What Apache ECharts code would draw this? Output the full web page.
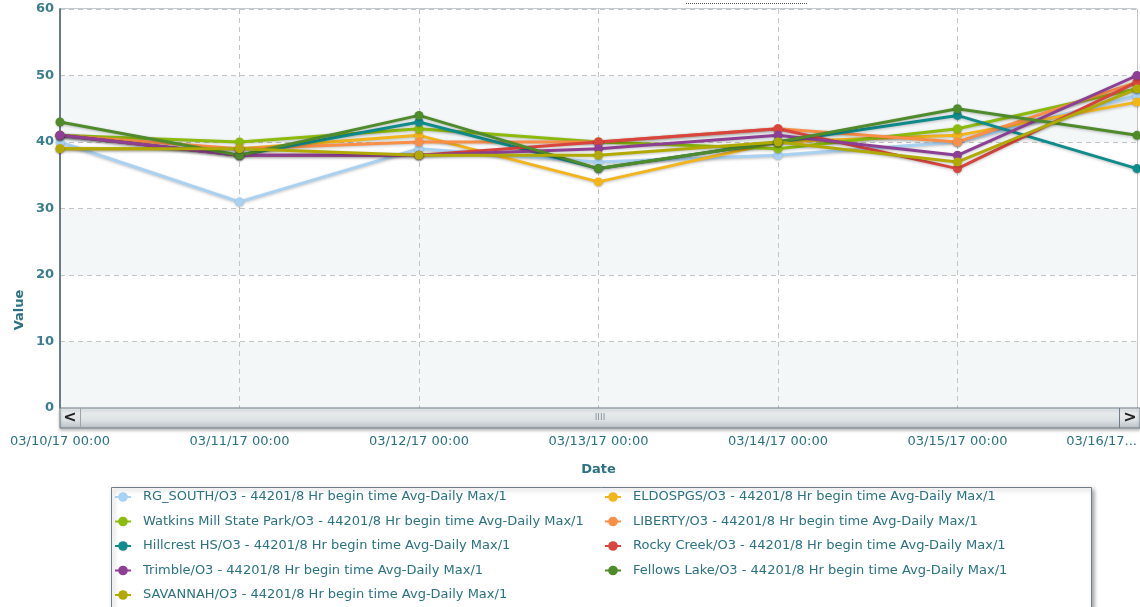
<!DOCTYPE html>
<html>
<head>
<meta charset="utf-8">
<script src="https://cdn.jsdelivr.net/npm/echarts@6/dist/echarts.min.js"></script>
<style>
html,body{margin:0;padding:0;background:#fff;}
#c{width:1140px;height:607px;}
</style>
</head>
<body>
<div id="c"></div>
<script>
var dates = ['03/10/17 00:00','03/11/17 00:00','03/12/17 00:00','03/13/17 00:00','03/14/17 00:00','03/15/17 00:00','03/16/17 00:00'];
var yTicks = [0, 10, 20, 30, 40, 50, 60];

var rgSouth    = [40, 31, 39, 37, 38, 40, 47];
var eldospgs   = [39, 39, 41, 34, 40, 41, 46];
var watkins    = [41, 40, 42, 40, 39, 42, 48];
var liberty    = [41, 39, 40, 40, 42, 40, 49];
var hillcrest  = [41, 38, 43, 36, 40, 44, 36];
var rockyCreek = [41, 38, 38, 40, 42, 36, 49];
var trimble    = [41, 38, 38, 39, 41, 38, 50];
var fellows    = [43, 38, 44, 36, 40, 45, 41];
var savannah   = [39, 39, 38, 38, 40, 37, 48];

var suffix = '/O3 - 44201/8 Hr begin time Avg-Daily Max/1';
var seriesDefs = [
  {name: 'RG_SOUTH' + suffix, data: rgSouth, color: '#a9d1f2'},
  {name: 'ELDOSPGS' + suffix, data: eldospgs, color: '#f3b51c'},
  {name: 'Watkins Mill State Park' + suffix, data: watkins, color: '#8dbb0c'},
  {name: 'LIBERTY' + suffix, data: liberty, color: '#f98e47'},
  {name: 'Hillcrest HS' + suffix, data: hillcrest, color: '#108c8c'},
  {name: 'Rocky Creek' + suffix, data: rockyCreek, color: '#d9443f'},
  {name: 'Trimble' + suffix, data: trimble, color: '#8d3f93'},
  {name: 'Fellows Lake' + suffix, data: fellows, color: '#4f8a2b'},
  {name: 'SAVANNAH' + suffix, data: savannah, color: '#b1aa05'}
];

var teal = '#2b7282';
var series = seriesDefs.map(function (s) {
  return {
    name: s.name, type: 'line', data: s.data, color: s.color,
    symbol: 'circle', symbolSize: 9, showSymbol: true,
    lineStyle: {width: 3, color: s.color, shadowColor: 'rgba(0,0,0,0.25)', shadowBlur: 3, shadowOffsetY: 1},
    itemStyle: {color: s.color, shadowColor: 'rgba(0,0,0,0.25)', shadowBlur: 2, shadowOffsetY: 1},
    animation: false
  };
});

var legendCommon = {
  orient: 'vertical', top: 490, padding: 0, height: 116, itemWidth: 16, itemHeight: 12, itemGap: 10.5,
  textStyle: {fontFamily: 'DejaVu Sans', fontSize: 13, lineHeight: 14, color: teal, padding: [0, 0, 0, 7]},
  selectedMode: false
};

var chart = echarts.init(document.getElementById('c'), null, {renderer: 'canvas'});
chart.setOption({
  backgroundColor: '#ffffff',
  animation: false,
  grid: {left: 60, right: 0, top: 9, bottom: 199, show: true, borderColor: '#8493a0', borderWidth: 1, backgroundColor: 'transparent'},
  xAxis: {
    type: 'category', data: dates, boundaryGap: false,
    axisLine: {show: false}, axisTick: {show: false},
    axisLabel: {
      margin: 27, color: teal, fontFamily: 'DejaVu Sans', fontSize: 13,
      interval: 0, alignMaxLabel: 'right',
      formatter: function (v, i) { return i === dates.length - 1 ? '03/16/17...' : v; }
    },
    splitLine: {show: true, lineStyle: {color: '#c4c4c4', type: [5, 4], width: 1}},
    name: 'Date', nameLocation: 'middle', nameGap: 55,
    nameTextStyle: {color: teal, fontFamily: 'DejaVu Sans', fontSize: 13, fontWeight: 'bold'}
  },
  yAxis: {
    type: 'value', min: yTicks[0], max: yTicks[yTicks.length - 1], interval: 10,
    axisLine: {show: true, lineStyle: {color: '#6a7c88', width: 2}},
    axisTick: {show: false},
    axisLabel: {color: '#3b7d8c', fontFamily: 'DejaVu Sans', fontSize: 13, fontWeight: 'bold', margin: 6},
    splitLine: {show: true, lineStyle: {color: '#c4c4c4', type: [5, 4], width: 1}},
    splitArea: {show: true, areaStyle: {color: ['#f4f7f8', '#ffffff']}}
  },
  legend: [
    Object.assign({}, legendCommon, {left: 114, data: [seriesDefs[0].name, seriesDefs[2].name, seriesDefs[4].name, seriesDefs[6].name, seriesDefs[8].name]}),
    Object.assign({}, legendCommon, {left: 604, data: [seriesDefs[1].name, seriesDefs[3].name, seriesDefs[5].name, seriesDefs[7].name]})
  ],
  graphic: [
    {type: 'rect', shape: {x: 111.5, y: 487.5, width: 980, height: 140}, style: {fill: '#fff', stroke: '#6f7d88', lineWidth: 1, shadowColor: 'rgba(0,0,0,0.35)', shadowBlur: 4, shadowOffsetX: 2, shadowOffsetY: 2}, z: -10},
    {type: 'rect', shape: {x: 60, y: 408, width: 1080, height: 20},
      style: {fill: new echarts.graphic.LinearGradient(0, 0, 0, 1, [{offset: 0, color: '#eef1f3'}, {offset: 0.6, color: '#dde2e5'}, {offset: 1, color: '#b9bfc4'}]), stroke: '#6f7d88', lineWidth: 1, shadowColor: 'rgba(0,0,0,0.25)', shadowBlur: 3, shadowOffsetY: 2}, z: 100},
    {type: 'line', shape: {x1: 80.5, y1: 408, x2: 80.5, y2: 428}, style: {stroke: '#9aa4ab', lineWidth: 1}, z: 101},
    {type: 'line', shape: {x1: 1119.5, y1: 408, x2: 1119.5, y2: 428}, style: {stroke: '#6f7d88', lineWidth: 1}, z: 101},
    {type: 'text', x: 70, y: 418, style: {text: '<', fill: '#222', font: 'bold 16px DejaVu Sans', align: 'center', verticalAlign: 'middle'}, z: 102},
    {type: 'text', x: 1130, y: 418, style: {text: '>', fill: '#222', font: 'bold 16px DejaVu Sans', align: 'center', verticalAlign: 'middle'}, z: 102},
    {type: 'text', x: 600, y: 418, style: {text: 'IIII', fill: '#8a939a', font: '9px DejaVu Sans', align: 'center', verticalAlign: 'middle'}, z: 102},
    {type: 'text', x: 20, y: 310, rotation: Math.PI / 2, style: {text: 'Value', fill: teal, font: 'bold 13px DejaVu Sans', align: 'center', verticalAlign: 'middle'}, z: 102},
    {type: 'line', shape: {x1: 686, y1: 3.5, x2: 808, y2: 3.5}, style: {stroke: '#555', lineWidth: 1, lineDash: [1, 1]}, z: 102}
  ],
  series: series
});
</script>
</body>
</html>
